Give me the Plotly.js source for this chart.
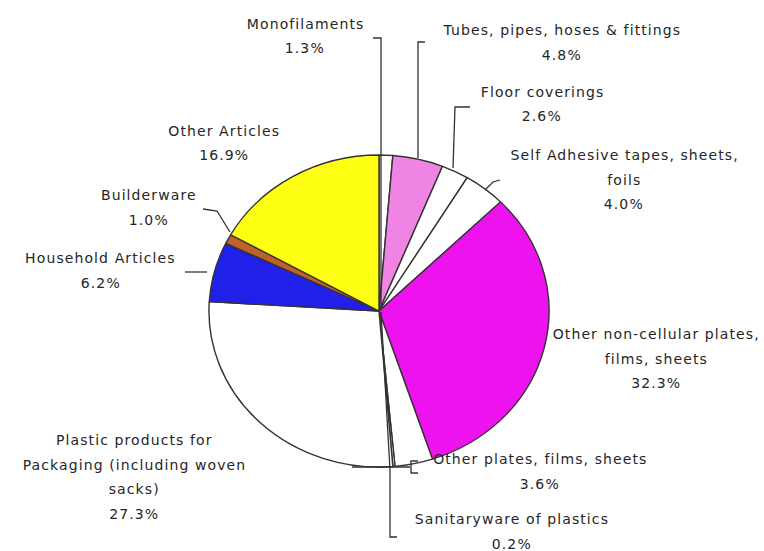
<!DOCTYPE html>
<html>
<head>
<meta charset="utf-8">
<script src="https://cdn.plot.ly/plotly-3.0.1.min.js"></script>
<style>
  html, body { margin: 0; padding: 0; background: #ffffff; }
  #chart { width: 764px; height: 551px; }
  #chart .annotation-text { letter-spacing: 1.1px; }
</style>
</head>
<body>
<div id="chart"></div>
<script>
// ---- data ----
const categories = [
  "Monofilaments",
  "Tubes, pipes, hoses & fittings",
  "Floor coverings",
  "Self Adhesive tapes, sheets, foils",
  "Other non-cellular plates, films, sheets",
  "Other plates, films, sheets",
  "Sanitaryware of plastics",
  "Plastic products for Packaging (including woven sacks)",
  "Household Articles",
  "Builderware",
  "Other Articles"
];
const shares = [1.3, 4.8, 2.6, 4.0, 32.3, 3.6, 0.2, 27.3, 6.2, 1.0, 16.9];
const labelLines = [
  ["Monofilaments"],
  ["Tubes, pipes, hoses & fittings"],
  ["Floor coverings"],
  ["Self Adhesive tapes, sheets,", "foils"],
  ["Other non-cellular plates,", "films, sheets"],
  ["Other plates, films, sheets"],
  ["Sanitaryware of plastics"],
  ["Plastic products for", "Packaging (including woven", "sacks)"],
  ["Household Articles"],
  ["Builderware"],
  ["Other Articles"]
];

// ---- styles / positions (pixels) ----
const sliceColors = ["#ffffff", "#f084e4", "#ffffff", "#ffffff", "#ee12ee", "#ffffff",
                     "#ffffff", "#ffffff", "#2020e8", "#c0602a", "#ffff14"];
const labelX = [305, 562, 542, 624, 656, 540, 512, 134, 101, 149, 224];
const labelY = [24, 30, 92, 155, 334, 459, 519, 440, 258, 195, 131];
const lineGap = 24.5;
const leaderPaths = [
  [[373, 38], [381, 38], [381, 305]],
  [[425, 42], [418, 42], [418, 158]],
  [[470, 107], [455, 107], [453, 168]],
  [[485, 190], [493, 182], [500, 180]],
  [[352, 467], [410, 467]],
  [[418, 461], [411, 461], [411, 473], [418, 473]],
  [[381, 312], [390, 470], [390, 537], [397, 537]],
  [[203, 209], [217, 211], [230, 232]],
  [[185, 272], [207, 272]]
];

const W = 764, H = 551;
const px = x => x / W;
const py = y => 1 - y / H;

const annotations = [];
categories.forEach((c, i) => {
  const lines = labelLines[i].concat([shares[i].toFixed(1) + "%"]);
  lines.forEach((t, k) => {
    annotations.push({
      xref: "paper", yref: "paper",
      x: px(labelX[i]), y: py(labelY[i] + k * lineGap),
      xanchor: "center", yanchor: "middle",
      text: t, showarrow: false,
      font: { family: "DejaVu Sans, Verdana, sans-serif", size: 14, color: "#262626" }
    });
  });
});

const shapes = leaderPaths.map(p => ({
  type: "path", xref: "paper", yref: "paper",
  path: p.map((pt, j) => (j ? "L" : "M") + px(pt[0]) + "," + py(pt[1])).join(" "),
  line: { color: "#333333", width: 1.3 }
}));

const trace = {
  type: "pie",
  labels: categories,
  values: shares,
  sort: false,
  direction: "clockwise",
  rotation: 0,
  textinfo: "none",
  hoverinfo: "none",
  marker: { colors: sliceColors, line: { color: "#333333", width: 1.3 } },
  domain: { x: [px(379 - 156), px(379 + 156)], y: [py(467), py(155)] },
  showlegend: false
};

const layout = {
  width: W, height: H,
  margin: { l: 0, r: 0, t: 0, b: 0 },
  paper_bgcolor: "#ffffff",
  showlegend: false,
  annotations: annotations,
  shapes: shapes
};

Plotly.newPlot("chart", [trace], layout, { displayModeBar: false, staticPlot: true }).then(() => {
  const g = document.querySelector(".pielayer");
  if (g) g.setAttribute("transform", "translate(379,0) scale(1.09,1) translate(-379,0)");
});
</script>
</body>
</html>
